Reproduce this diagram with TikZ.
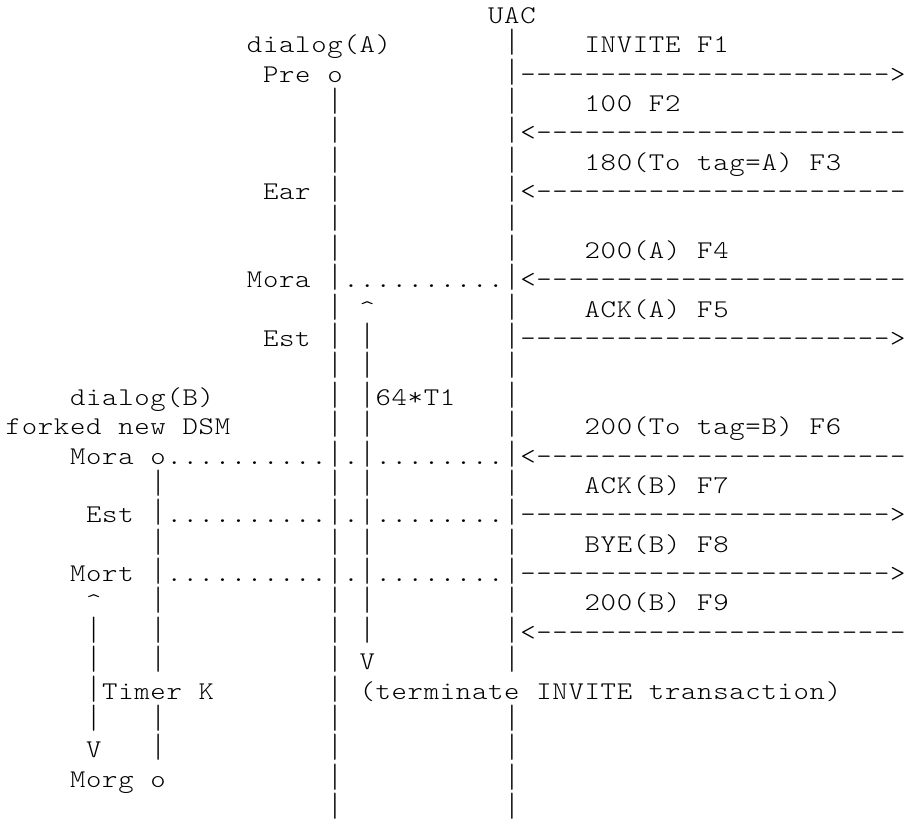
\documentclass[tikz,border=0pt]{standalone}
\usepackage{graphicx}
\newlength\cw \setlength\cw{16.08pt}
\ExplSyntaxOn
\NewDocumentCommand\mono{m}{\tl_map_inline:nn{#1}{\makebox[\cw][c]{\str_if_eq:nnTF{##1}{|}{\scalebox{1.1}[1.32]{|}}{\scalebox{1.15}[1]{##1}}}}}
\ExplSyntaxOff
\tikzset{ascii/.style={anchor=base west, inner sep=0pt, outer sep=0pt,
  font=\fontsize{25.5}{29.38}\ttfamily\fontseries{l}\selectfont}}
\newcommand\seg[4]{\node[ascii] (#1) at ({5.4+#2*16.08},{-23.3-(#3-1)*29.38}) {\mono{#4}};}
\begin{document}
\begin{tikzpicture}[x=1pt,y=1pt]
\useasboundingbox (0,0) rectangle (906,-822);
\fill[white] (0,0) rectangle (906,-822);
% line 1
\seg{uac}{30}{1}{UAC}
% line 2
\seg{dA}{15}{2}{dialog(A)}
\seg{l2b}{31}{2}{|}
\seg{f1}{36}{2}{INVITE~F1}
% line 3
\seg{pre}{16}{3}{Pre~o}
\seg{a1}{31}{3}{|----------------------->}
% line 4
\seg{l4a}{20}{4}{|}
\seg{l4b}{31}{4}{|}
\seg{f2}{36}{4}{100~F2}
% line 5
\seg{l5a}{20}{5}{|}
\seg{a2}{31}{5}{|<-----------------------}
% line 6
\seg{l6a}{20}{6}{|}
\seg{l6b}{31}{6}{|}
\seg{f3}{36}{6}{180(To~tag=A)~F3}
% line 7
\seg{ear}{16}{7}{Ear~|}
\seg{a3}{31}{7}{|<-----------------------}
% line 8
\seg{l8a}{20}{8}{|}
\seg{l8b}{31}{8}{|}
% line 9
\seg{l9a}{20}{9}{|}
\seg{l9b}{31}{9}{|}
\seg{f4}{36}{9}{200(A)~F4}
% line 10
\seg{moraA}{15}{10}{Mora~|..........|<-----------------------}
% line 11
\seg{l11a}{20}{11}{|~\textasciicircum}
\seg{l11b}{31}{11}{|}
\seg{f5}{36}{11}{ACK(A)~F5}
% line 12
\seg{estA}{16}{12}{Est~|~|}
\seg{a5}{31}{12}{|----------------------->}
% line 13
\seg{l13a}{20}{13}{|~|}
\seg{l13b}{31}{13}{|}
% line 14
\seg{dB}{4}{14}{dialog(B)}
\seg{t1}{20}{14}{|~|64*T1}
\seg{l14b}{31}{14}{|}
% line 15
\seg{fork}{0}{15}{forked~new~DSM}
\seg{l15a}{20}{15}{|~|}
\seg{l15b}{31}{15}{|}
\seg{f6}{36}{15}{200(To~tag=B)~F6}
% line 16
\seg{moraB}{4}{16}{Mora~o..........|.|........|<-----------------------}
% line 17
\seg{l17a}{9}{17}{|}
\seg{l17b}{20}{17}{|~|}
\seg{l17c}{31}{17}{|}
\seg{f7}{36}{17}{ACK(B)~F7}
% line 18
\seg{estB}{5}{18}{Est~|..........|.|........|----------------------->}
% line 19
\seg{l19a}{9}{19}{|}
\seg{l19b}{20}{19}{|~|}
\seg{l19c}{31}{19}{|}
\seg{f8}{36}{19}{BYE(B)~F8}
% line 20
\seg{mort}{4}{20}{Mort~|..........|.|........|----------------------->}
% line 21
\seg{l21a}{5}{21}{\textasciicircum}
\seg{l21b}{9}{21}{|}
\seg{l21c}{20}{21}{|~|}
\seg{l21d}{31}{21}{|}
\seg{f9}{36}{21}{200(B)~F9}
% line 22
\seg{l22a}{5}{22}{|}
\seg{l22b}{9}{22}{|}
\seg{l22c}{20}{22}{|~|}
\seg{a9}{31}{22}{|<-----------------------}
% line 23
\seg{l23a}{5}{23}{|}
\seg{l23b}{9}{23}{|}
\seg{l23c}{20}{23}{|~V}
\seg{l23d}{31}{23}{|}
% line 24
\seg{tk}{5}{24}{|Timer~K}
\seg{l24b}{20}{24}{|}
\seg{term}{22}{24}{(terminate~INVITE~transaction)}
% line 25
\seg{l25a}{5}{25}{|}
\seg{l25b}{9}{25}{|}
\seg{l25c}{20}{25}{|}
\seg{l25d}{31}{25}{|}
% line 26
\seg{l26a}{5}{26}{V}
\seg{l26b}{9}{26}{|}
\seg{l26c}{20}{26}{|}
\seg{l26d}{31}{26}{|}
% line 27
\seg{morg}{4}{27}{Morg~o}
\seg{l27b}{20}{27}{|}
\seg{l27c}{31}{27}{|}
% line 28
\seg{l28a}{20}{28}{|}
\seg{l28b}{31}{28}{|}
\end{tikzpicture}
\end{document}
